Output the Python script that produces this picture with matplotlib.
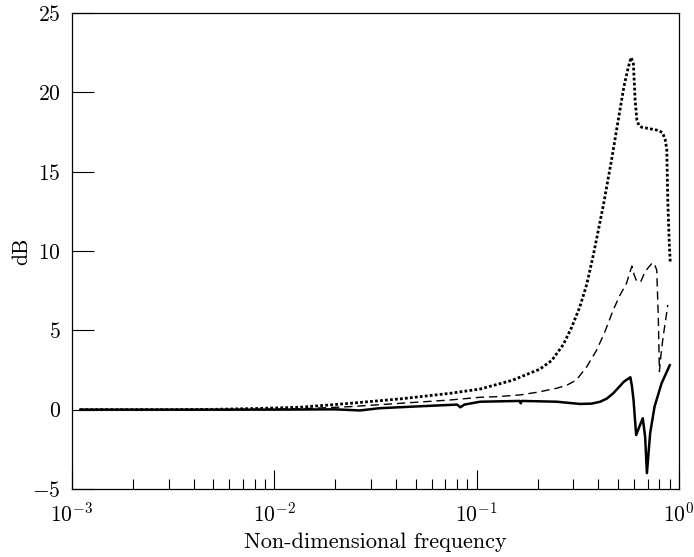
import numpy as np
import matplotlib
matplotlib.use("Agg")
import matplotlib.pyplot as plt
from matplotlib.ticker import LogLocator, FixedLocator, NullLocator

plt.rcParams["font.family"] = "cmr10"
plt.rcParams["mathtext.fontset"] = "cm"
plt.rcParams["axes.formatter.use_mathtext"] = True

# dotted curve
f_dot = [0.0011, 0.003, 0.005, 0.008, 0.0134, 0.0237, 0.042, 0.074, 0.104, 0.15,
         0.205, 0.235, 0.268, 0.295, 0.324, 0.35, 0.378, 0.423, 0.465, 0.5,
         0.535, 0.562, 0.58, 0.595, 0.607, 0.619, 0.635, 0.653, 0.72, 0.79,
         0.83, 0.855, 0.87, 0.88, 0.895, 0.906]
v_dot = [0.0, 0.0, 0.02, 0.07, 0.15, 0.4, 0.68, 1.03, 1.3, 1.85,
         2.55, 3.1, 4.1, 5.2, 6.5, 7.9, 9.8, 12.9, 15.8, 18.2,
         20.4, 21.6, 22.2, 21.8, 19.5, 18.25, 17.9, 17.8, 17.7, 17.6,
         17.45, 17.0, 16.4, 13.2, 10.5, 9.2]

# dashed curve
f_dash = [0.0011, 0.005, 0.0134, 0.0237, 0.042, 0.074, 0.104, 0.127, 0.164, 0.2,
          0.249, 0.28, 0.311, 0.35, 0.392, 0.43, 0.473, 0.51, 0.55, 0.57,
          0.585, 0.6, 0.619, 0.647, 0.68, 0.71, 0.74, 0.76, 0.776, 0.79,
          0.8, 0.815, 0.835, 0.86, 0.88]
v_dash = [0.0, 0.0, 0.05, 0.19, 0.4, 0.61, 0.78, 0.82, 0.93, 1.1,
          1.35, 1.55, 1.87, 2.7, 3.76, 4.9, 6.28, 7.2, 7.96, 8.6,
          9.05, 8.5, 8.07, 8.07, 8.7, 9.0, 9.27, 9.1, 8.8, 5.86,
          2.4, 3.5, 4.6, 5.7, 6.6]

# solid curve
f_sol = [0.0011, 0.005, 0.01, 0.02, 0.0265, 0.033, 0.05, 0.074, 0.08, 0.083,
         0.087, 0.104, 0.163, 0.165, 0.167, 0.249, 0.3, 0.324, 0.37, 0.408,
         0.44, 0.473, 0.535, 0.575, 0.585, 0.596, 0.614, 0.637, 0.662, 0.68,
         0.694, 0.72, 0.757, 0.82, 0.9]
v_sol = [0.0, 0.0, 0.0, 0.02, -0.05, 0.09, 0.2, 0.3, 0.32, 0.15,
         0.32, 0.5, 0.55, 0.4, 0.55, 0.5, 0.4, 0.36, 0.38, 0.5,
         0.7, 1.03, 1.77, 2.04, 1.5, 0.61, -1.6, -1.07, -0.54, -1.7,
         -4.0, -1.49, 0.19, 1.66, 2.8]

y_ticks = [-5, 0, 5, 10, 15, 20, 25]

fig = plt.figure(figsize=(6.94, 5.57), dpi=100)
ax = fig.add_axes([0.1037, 0.1221, 0.8747, 0.8546])

ax.plot(f_dot, v_dot, color="black", lw=2.0, linestyle=(0, (1, 0.8)))
ax.plot(f_dash, v_dash, color="black", lw=1.0, linestyle=(0, (6, 3.5)))
ax.plot(f_sol, v_sol, color="black", lw=1.8)

ax.set_xscale("log")
ax.set_xlim(1e-3, 1e0)
ax.set_ylim(-5, 25)
ax.yaxis.set_major_locator(FixedLocator(y_ticks))
ax.yaxis.set_minor_locator(NullLocator())
ax.xaxis.set_major_locator(LogLocator(base=10, numticks=10))
ax.xaxis.set_minor_locator(LogLocator(base=10, subs=np.arange(2, 10), numticks=20))

ax.tick_params(axis="both", which="both", direction="in", top=False, right=False,
               labelsize=15.5, width=0.8)
ax.tick_params(axis="y", which="major", length=16, pad=8)
ax.tick_params(axis="x", which="major", length=14, pad=9)
ax.tick_params(axis="x", which="minor", length=7)

for s in ax.spines.values():
    s.set_linewidth(0.9)

ax.set_xlabel("Non-dimensional frequency", fontsize=16, labelpad=5)
ax.set_ylabel("dB", fontsize=15.5, labelpad=1)

fig.savefig("out.png", dpi=100)
